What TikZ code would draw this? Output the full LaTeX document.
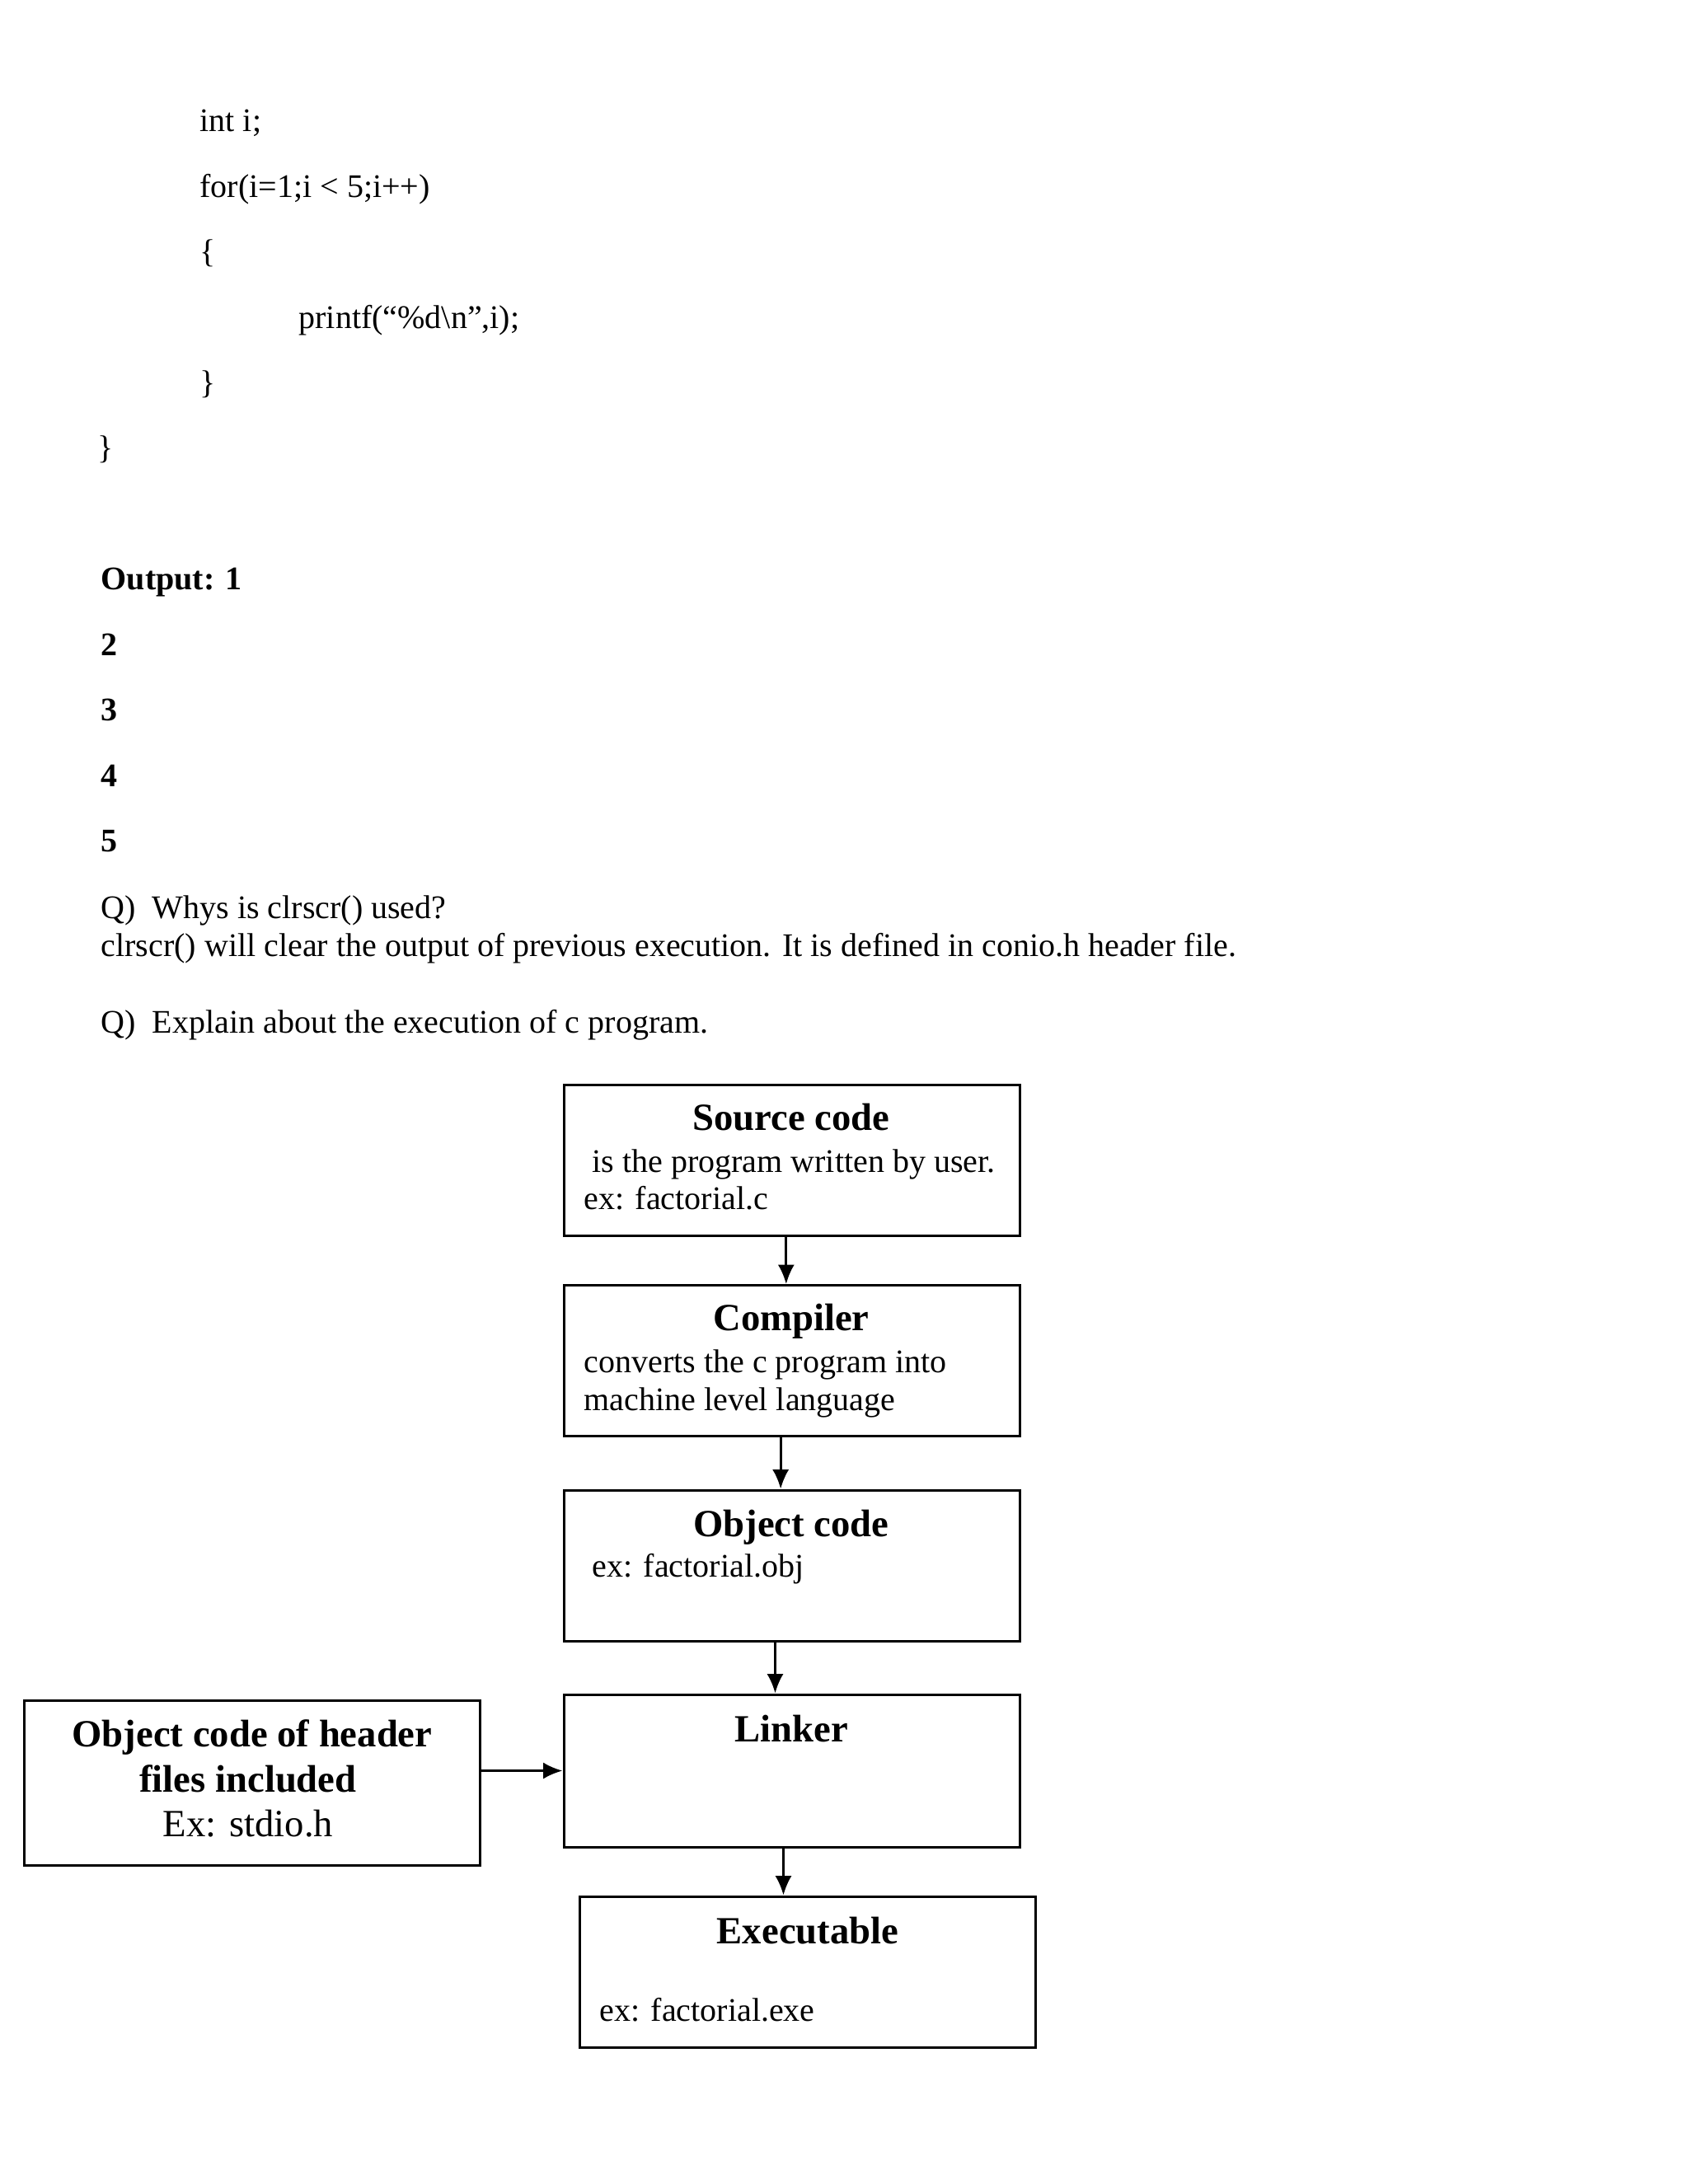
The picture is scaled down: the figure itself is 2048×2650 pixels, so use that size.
\documentclass[tikz,border=0pt]{standalone}
\usepackage{fontspec}
\setmainfont{Liberation Serif}
\usepackage{tikz}
\usetikzlibrary{arrows.meta}

\begin{document}
\begin{tikzpicture}[x=0.0105417cm,y=-0.0105417cm,>={Latex[length=7pt,width=6pt]}]
    \def\pix{0.0105417cm}
    \tikzset{
      box/.style={draw,line width=0.9pt,minimum width=553*\pix,minimum height=183*\pix},
      txt/.style={anchor=mid west,inner sep=0pt,yshift=-2pt,font=\fontsize{12}{14}\selectfont},
      boldtxt/.style={txt,font=\fontsize{12}{14}\selectfont\bfseries},
      head/.style={anchor=mid,inner sep=0pt,yshift=-2pt,font=\fontsize{14}{16}\selectfont\bfseries}
    }
    \useasboundingbox (0,0) rectangle (2048,2650);

    % Kod programu
    \node[txt] (c1) at (242,145) {int i;};
    \node[txt] (c2) at (242,225) {for(i=1;i < 5;i++)};
    \node[txt] (c3) at (242,304) {\{};
    \node[txt] (c4) at (362,384) {printf(“\%d\textbackslash n”,i);};
    \node[txt] (c5) at (242,463) {\}};
    \node[txt] (c6) at (118,542) {\}};

    % Wynik
    \node[boldtxt] (out1) at (122,701) {Output: 1};
    \node[boldtxt] (out2) at (122,781) {2};
    \node[boldtxt] (out3) at (122,860) {3};
    \node[boldtxt] (out4) at (122,940) {4};
    \node[boldtxt] (out5) at (122,1019) {5};

    % Pytania
    \node[txt] (q1) at (122,1100) {Q)\hspace{6pt}Whys is clrscr() used?};
    \node[txt] (a1) at (122,1146) {clrscr() will clear the output of previous execution. It is defined in conio.h header file.};
    \node[txt] (q2) at (122,1239) {Q)\hspace{6pt}Explain about the execution of c program.};

    % Bloki
    \node[box] (src) at (960.5,1407.5) {};
    \node[box] (comp) at (960.5,1651) {};
    \node[box] (obj) at (960.5,1899.5) {};
    \node[box,minimum height=185*\pix] (lnk) at (960.5,2148.5) {};
    \node[box] (exe) at (980,2392.5) {};
    \node[box,minimum height=200*\pix] (hdr) at (306,2163) {};

    % Teksty w blokach
    \node[head] (srct) at (960,1357) {Source code};
    \node[txt] (srcb) at (718,1408) {is the program written by user.};
    \node[txt] (srcc) at (708,1453) {ex: factorial.c};

    \node[head] (compt) at (960,1600) {Compiler};
    \node[txt] (compb) at (708,1651) {converts the c program into};
    \node[txt] (compc) at (708,1697) {machine level language};

    \node[head] (objt) at (960,1850) {Object code};
    \node[txt] (objb) at (718,1899) {ex: factorial.obj};

    \node[head] (lnkt) at (960,2099) {Linker};

    \node[head] (exet) at (980,2344) {Executable};
    \node[txt] (exeb) at (727,2438) {ex: factorial.exe};

    \node[head] (hdra) at (306,2105) {Object code of header};
    \node[head] (hdrb) at (301,2160) {files included};
    \node[head,font=\fontsize{14}{16}\selectfont] (hdrc) at (301,2214) {Ex: stdio.h};

    % Strzałki
    \draw[->,line width=0.9pt] ([xshift=-2pt]src.south) -- ([xshift=-2pt]src.south |- comp.north);
    \draw[->,line width=0.9pt] ([xshift=-4pt]comp.south) -- ([xshift=-4pt]comp.south |- obj.north);
    \draw[->,line width=0.9pt] ([xshift=-6pt]obj.south) -- ([xshift=-6pt]obj.south |- lnk.north);
    \draw[->,line width=0.9pt] ([xshift=-3pt]lnk.south) -- ([xshift=-3pt]lnk.south |- exe.north);
    \draw[->,line width=0.9pt] (hdr.east |- lnk.west) -- (lnk.west);

\end{tikzpicture}
\end{document}
